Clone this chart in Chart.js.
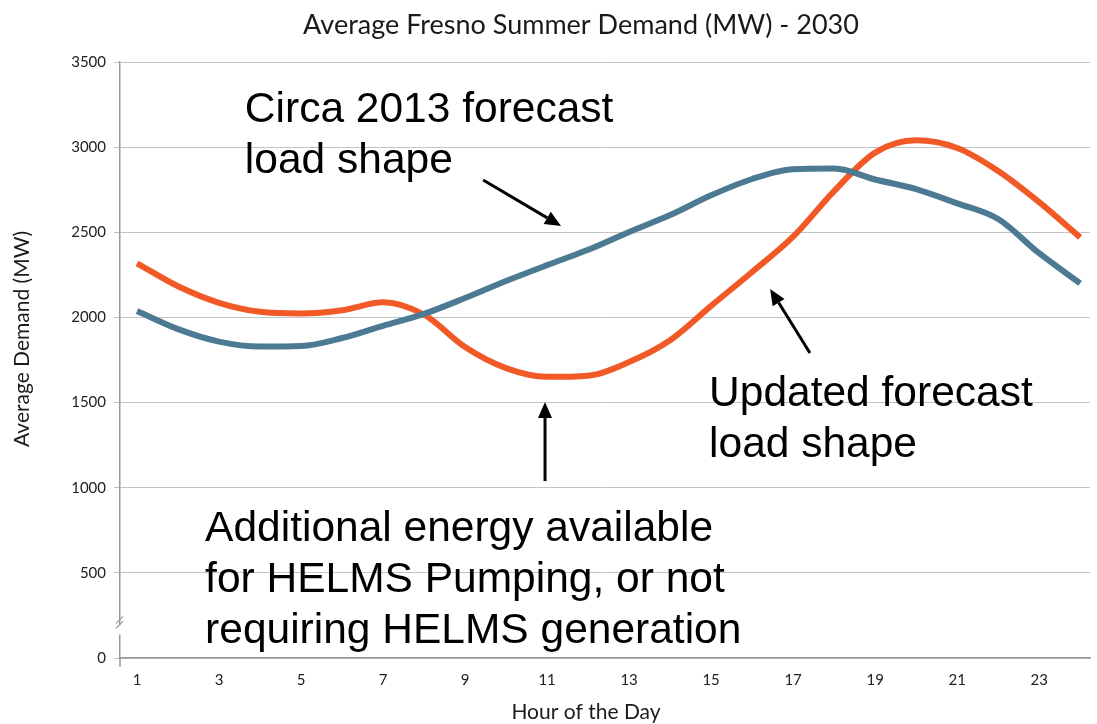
<!DOCTYPE html>
<html>
<head>
<meta charset="utf-8">
<script src="https://cdn.jsdelivr.net/npm/chart.js@4.4.1/dist/chart.umd.min.js"></script>
<style>
    html, body { margin: 0; padding: 0; background: #fff; }
</style>
</head>
<body>
<canvas id="demandChart" width="1097" height="724"></canvas>
<script>
// hour of the day, 1..24
const hours = [1, 2, 3, 4, 5, 6, 7, 8, 9, 10, 11, 12, 13, 14, 15, 16, 17, 18, 19, 20, 21, 22, 23, 24];
// MW
const circa2013 = [2038, 1931, 1858, 1829, 1832, 1879, 1951, 2021, 2114, 2214, 2307, 2397,
                   2502, 2601, 2717, 2813, 2870, 2874, 2810, 2754, 2670, 2578, 2377, 2200];
const updated = [2318, 2183, 2086, 2033, 2023, 2042, 2089, 2016, 1826, 1702, 1651, 1658,
                 1738, 1866, 2068, 2267, 2474, 2742, 2968, 3040, 2995, 2860, 2677, 2470];
const hourTicks = [1, 3, 5, 7, 9, 11, 13, 15, 17, 19, 21, 23];
const demandTicks = [0, 500, 1000, 1500, 2000, 2500, 3000, 3500];

const chartTitle = 'Average Fresno Summer Demand (MW) - 2030';
const xTitle = 'Hour of the Day';
const yTitle = 'Average Demand (MW)';

// callouts, placed in chart units (hour, MW) = left edge / baseline of first line
const notes = [
    { hour: 3.63, mw: 3148, lines: ['Circa 2013 forecast', 'load shape'] },
    { hour: 14.95, mw: 1480, lines: ['Updated forecast', 'load shape'] },
    { hour: 2.66, mw: 687, lines: ['Additional energy available', 'for HELMS Pumping, or not', 'requiring HELMS generation'] }
];
// arrows: from tail to tip, also in chart units
const arrows = [
    { from: [9.44, 2807], to: [11.34, 2537] },
    { from: [17.41, 1791], to: [16.44, 2167] },
    { from: [10.95, 1039], to: [10.95, 1503] }
];

function drawArrow(c, x1, y1, x2, y2) {
    const ang = Math.atan2(y2 - y1, x2 - x1);
    const len = 16, half = 7;
    const bx = x2 - len * Math.cos(ang), by = y2 - len * Math.sin(ang);
    c.beginPath();
    c.moveTo(x1, y1);
    c.lineTo(bx, by);
    c.lineWidth = 3;
    c.stroke();
    c.beginPath();
    c.moveTo(x2, y2);
    c.lineTo(bx + half * Math.sin(ang), by - half * Math.cos(ang));
    c.lineTo(bx - half * Math.sin(ang), by + half * Math.cos(ang));
    c.closePath();
    c.fill();
}

const calloutPlugin = {
    id: 'callouts',
    afterDraw(chart) {
        const c = chart.ctx;
        const xs = chart.scales.x, ys = chart.scales.y;
        const area = chart.chartArea;
        c.save();

        // titles (the original sits a bit left of the plot centre)
        c.fillStyle = '#1a1a1a';
        c.textAlign = 'center';
        c.textBaseline = 'middle';
        c.font = '27px Lato, sans-serif';
        c.fillText(chartTitle, 581, 25);
        c.font = '21px Lato, sans-serif';
        c.fillText(xTitle, 586, 712);
        c.save();
        c.translate(22, 339);
        c.rotate(-Math.PI / 2);
        c.fillText(yTitle, 0, 0);
        c.restore();

        // y axis runs a little past the x axis, and is broken near the bottom
        c.strokeStyle = '#999';
        c.lineWidth = 1.5;
        c.beginPath();
        c.moveTo(area.left, area.bottom);
        c.lineTo(area.left, area.bottom + 9);
        c.stroke();

        const yb = ys.getPixelForValue(180);
        c.fillStyle = '#fff';
        c.fillRect(area.left - 3, yb - 2, 6, 9);
        c.lineWidth = 1.2;
        c.beginPath();
        c.moveTo(area.left - 4, yb - 4); c.lineTo(area.left + 3, yb - 11);
        c.moveTo(area.left - 4, yb + 1); c.lineTo(area.left + 3, yb - 6);
        c.stroke();

        c.fillStyle = '#000';
        c.strokeStyle = '#000';
        c.font = '42.5px "Liberation Sans", Arial, sans-serif';
        c.textBaseline = 'alphabetic';
        c.textAlign = 'left';
        notes.forEach(n => {
            const px = xs.getPixelForValue(n.hour);
            const py = ys.getPixelForValue(n.mw);
            n.lines.forEach((t, i) => c.fillText(t, px, py + i * 51));
        });

        arrows.forEach(a => {
            drawArrow(c,
                xs.getPixelForValue(a.from[0]), ys.getPixelForValue(a.from[1]),
                xs.getPixelForValue(a.to[0]), ys.getPixelForValue(a.to[1]));
        });
        c.restore();
    }
};

const ctx = document.getElementById('demandChart').getContext('2d');
const demandChart = new Chart(ctx, {
    type: 'line',
    data: {
        datasets: [{
            label: 'Circa 2013 forecast',
            data: hours.map((h, i) => ({ x: h, y: circa2013[i] })),
            borderColor: '#4b7a92',
            borderWidth: 6,
            pointRadius: 0,
            cubicInterpolationMode: 'monotone',
            fill: false
        }, {
            label: 'Updated forecast',
            data: hours.map((h, i) => ({ x: h, y: updated[i] })),
            borderColor: '#f15a27',
            borderWidth: 6,
            pointRadius: 0,
            cubicInterpolationMode: 'monotone',
            fill: false
        }]
    },
    options: {
        responsive: false,
        animation: false,
        layout: { padding: { left: 0, right: 7, top: 62, bottom: 0 } },
        scales: {
            x: {
                type: 'linear',
                min: 0.585,
                max: 24.24,
                afterBuildTicks: s => { s.ticks = hourTicks.map(v => ({ value: v })); },
                afterFit: s => { s.height = 66; },
                grid: { display: false },
                border: { display: true, color: '#999', width: 1.5 },
                ticks: {
                    padding: 5,
                    color: '#222',
                    font: { family: 'Lato', size: 15 }
                }
            },
            y: {
                min: 0,
                max: 3500,
                afterBuildTicks: s => { s.ticks = demandTicks.map(v => ({ value: v })); },
                afterFit: s => { s.width = 120; },
                grid: { color: '#c4c4c4', lineWidth: 1, tickLength: 6 },
                border: { display: true, color: '#999', width: 1.5 },
                ticks: {
                    padding: 8,
                    color: '#222',
                    font: { family: 'Lato', size: 15 },
                    callback: v => String(v)
                }
            }
        },
        plugins: {
            legend: { display: false },
            tooltip: { enabled: false },
            title: { display: false }
        }
    },
    plugins: [calloutPlugin]
});
</script>
</body>
</html>
